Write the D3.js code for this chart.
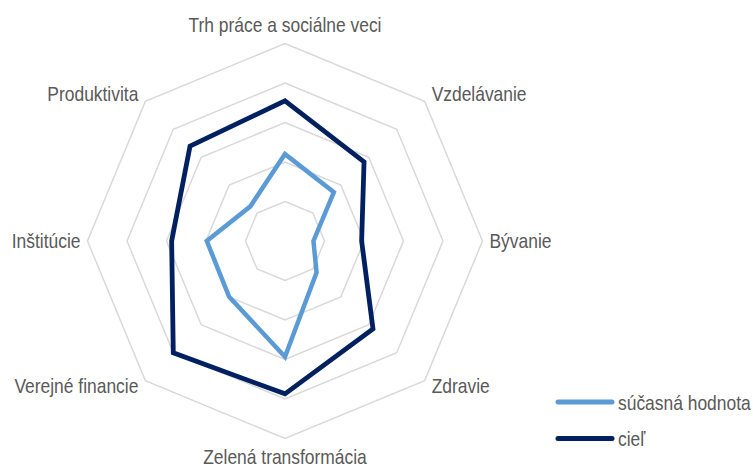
<!DOCTYPE html>
<html>
<head>
<meta charset="utf-8">
<script src="https://cdn.jsdelivr.net/npm/d3@7"></script>
<style>
body { margin: 0; background: #fff; }
text { font-family: "Liberation Sans Narrow", "Arial Narrow", "Liberation Sans", Arial, sans-serif; fill: #595959; }
</style>
</head>
<body>
<div id="chart"></div>
<script>
var w = 753
var h = 467

// axes, clockwise from the top
var categories = ["Trh práce a sociálne veci", "Vzdelávanie", "Bývanie", "Zdravie",
	"Zelená transformácia", "Verejné financie", "Inštitúcie", "Produktivita"]
var current = [2.2, 1.75, 0.72, 1.13, 2.93, 2.0, 1.98, 1.24]
var target = [3.55, 2.83, 1.94, 3.15, 3.87, 4.0, 2.87, 3.4]
var ringTicks = [1, 2, 3, 4, 5]
var seriesNames = ["súčasná hodnota", "cieľ"]

var cx = 285, cy = 241
var R = 197.5
var fontSize = "20.5px"
var squeeze = 0.85 // the original font is a condensed one

var svg = d3.select("#chart")
	.append("svg")
	.attr("width", w)
	.attr("height", h)

var r = d3.scaleLinear()
	.domain([0, 5])
	.range([0, R])

var angle = d3.scalePoint()
	.domain(categories)
	.range([0, 2 * Math.PI * 7 / 8])

var g = svg.append("g")
	.attr("transform", "translate(" + cx + "," + cy + ")")

// grid rings
var ring = d3.lineRadial()
	.angle(function(d) { return angle(d) })
	.curve(d3.curveLinearClosed)

g.selectAll(".ring")
	.data(ringTicks)
	.enter()
	.append("path")
	.classed("ring", true)
	.attr("d", function(t) { return ring.radius(r(t))(categories) })
	.style("fill", "none")
	.style("stroke", "#d9d9d9")
	.style("stroke-width", "1.5px")

// series
var seriesLine = d3.lineRadial()
	.angle(function(d, i) { return angle(categories[i]) })
	.radius(function(d) { return r(d) })
	.curve(d3.curveLinearClosed)

var series = [
	{name: seriesNames[0], values: current, colour: "#5b9bd5", width: 4.5},
	{name: seriesNames[1], values: target, colour: "#002060", width: 4.8}
]

g.selectAll(".series")
	.data(series)
	.enter()
	.append("path")
	.classed("series", true)
	.attr("d", function(d) { return seriesLine(d.values) })
	.style("fill", "none")
	.style("stroke", function(d) { return d.colour })
	.style("stroke-width", function(d) { return d.width + "px" })
	.style("stroke-linejoin", "miter")

// category labels
function labelDy(c) {
	if (c > 0.9) return -12
	if (c > 0.5) return 0
	if (c > -0.5) return 7.3
	if (c > -0.9) return 12
	return 25
}

g.selectAll(".label")
	.data(categories)
	.enter()
	.append("text")
	.classed("label", true)
	.attr("transform", function(d) {
		var s = Math.sin(angle(d)), c = Math.cos(angle(d))
		var x = r(5) * s + (s > 0.1 ? 7 : s < -0.1 ? -7 : 0)
		var y = -r(5) * c + labelDy(c)
		return "translate(" + x + "," + y + ") scale(" + squeeze + ",1)"
	})
	.attr("text-anchor", function(d) {
		var s = Math.sin(angle(d))
		return s > 0.1 ? "start" : s < -0.1 ? "end" : "middle"
	})
	.style("font-size", fontSize)
	.text(function(d) { return d })

// legend
var legend = svg.append("g")
	.attr("transform", "translate(558,402)")

var item = legend.selectAll(".item")
	.data(series)
	.enter()
	.append("g")
	.classed("item", true)
	.attr("transform", function(d, i) { return "translate(0," + (i * 36.6) + ")" })

item.append("line")
	.attr("x1", 0)
	.attr("x2", 54)
	.attr("y1", 0)
	.attr("y2", 0)
	.style("stroke", function(d) { return d.colour })
	.style("stroke-width", "5px")
	.style("stroke-linecap", "round")

item.append("text")
	.attr("transform", "translate(60,7.5) scale(" + squeeze + ",1)")
	.style("font-size", fontSize)
	.text(function(d) { return d.name })
</script>
</body>
</html>
